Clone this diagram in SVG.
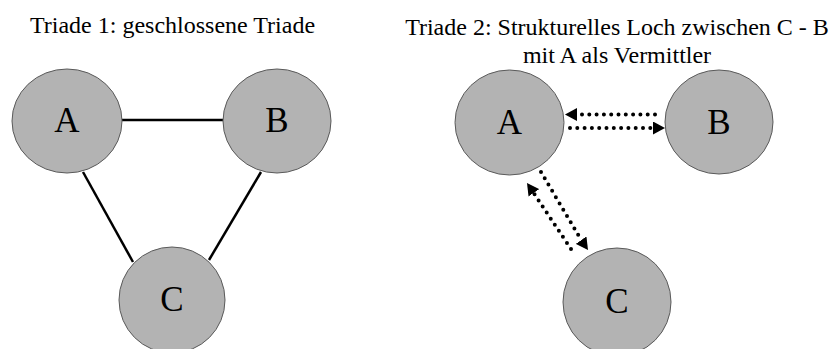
<svg xmlns="http://www.w3.org/2000/svg" width="837" height="349" viewBox="0 0 837 349">
<style>
.node{fill:#b3b3b3;stroke:#5a5a5a;stroke-width:1}
.lbl{font-family:"Liberation Serif","Times New Roman",serif;font-size:35px;fill:#000;text-anchor:middle}
.title{font-family:"Liberation Serif","Times New Roman",serif;font-size:24px;fill:#000;text-anchor:middle}
.solid{stroke:#000;stroke-width:2.5;fill:none}
.dot{stroke:#000;stroke-width:4;fill:none;stroke-dasharray:0 7.3;stroke-linecap:round}
.tip{stroke:#000;stroke-width:0.1;fill:none}
</style>
<defs>
<marker id="ah" viewBox="0 0 10 10" refX="10" refY="5" markerWidth="12" markerHeight="13" markerUnits="userSpaceOnUse" orient="auto" preserveAspectRatio="none">
<path d="M0,0 L10,5 L0,10 Z" fill="#000"/>
</marker>
</defs>
<rect width="837" height="349" fill="#fff"/>
<text class="title" x="172.5" y="33">Triade 1: geschlossene Triade</text>
<text class="title" x="617" y="35">Triade 2: Strukturelles Loch zwischen C - B</text>
<text class="title" x="617" y="63">mit A als Vermittler</text>
<g id="connectors">
<line class="solid" x1="122" y1="120" x2="223" y2="120"/>
<line class="solid" x1="83" y1="172" x2="133" y2="262"/>
<line class="solid" x1="261" y1="172" x2="209" y2="260"/>
<line class="dot" x1="655" y1="114.5" x2="577" y2="114.5"/>
<line class="tip" x1="577" y1="114.5" x2="565" y2="114.5" marker-end="url(#ah)"/>
<line class="dot" x1="570" y1="128" x2="652" y2="128"/>
<line class="tip" x1="653" y1="128" x2="665" y2="128" marker-end="url(#ah)"/>
<line class="dot" x1="571" y1="249" x2="533" y2="192"/>
<line class="tip" x1="534" y1="193" x2="527" y2="183" marker-end="url(#ah)"/>
<line class="dot" x1="541" y1="172" x2="580" y2="238"/>
<line class="tip" x1="581" y1="240" x2="588" y2="250" marker-end="url(#ah)"/>
</g>
<g id="t1-A"><ellipse class="node" cx="67" cy="121" rx="55" ry="52"/><text class="lbl" x="67" y="132">A</text></g>
<g id="t1-B"><ellipse class="node" cx="277" cy="121" rx="54" ry="52"/><text class="lbl" x="277" y="132">B</text></g>
<g id="t1-C"><ellipse class="node" cx="172" cy="300" rx="53" ry="53"/><text class="lbl" x="172" y="311">C</text></g>
<g id="t2-A"><ellipse class="node" cx="509.5" cy="122.5" rx="54.5" ry="52.5"/><text class="lbl" x="509.5" y="134">A</text></g>
<g id="t2-B"><ellipse class="node" cx="719" cy="122" rx="54" ry="52"/><text class="lbl" x="719" y="134">B</text></g>
<g id="t2-C"><ellipse class="node" cx="617" cy="302" rx="54" ry="54"/><text class="lbl" x="617" y="313">C</text></g>
</svg>
